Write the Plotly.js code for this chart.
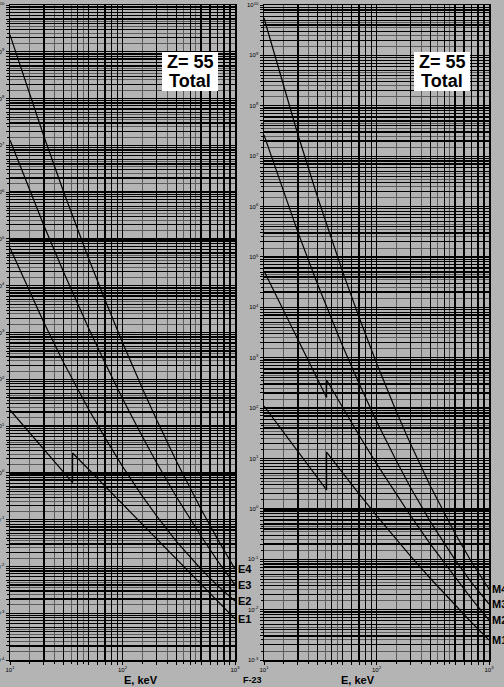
<!DOCTYPE html>
<html>
<head>
<meta charset="utf-8">
<script src="https://cdn.plot.ly/plotly-3.0.1.min.js"></script>
<style>html,body{margin:0;padding:0;background:#b4b4b4;}</style>
</head>
<body>
<div id="icc-plot" style="width:504px;height:687px;"></div>
<script>
// photon energy, keV (the K edge of Z=55 sits at 36 keV, so it is listed twice there)
var energy     = [10, 15, 20, 30, 36, 50, 70, 100, 150, 200, 300, 500, 700, 1000];
var energyEdge = [10, 15, 20, 30, 36, 36, 50, 70, 100, 150, 200, 300, 500, 700, 1000];

// electric multipoles (left panel)
var e4 = [2.29e9, 1.19e8, 1.57e7, 1.01e6, 3.06e5, 3.82e4, 4.93e3, 610, 64.3, 14.0, 1.82, 0.167, 0.0383, 0.00883];
var e3 = [1.30e7, 1.07e6, 1.94e5, 1.93e4, 7.10e3, 1.24e3, 223, 38.9, 5.97, 1.69, 0.313, 0.0442, 0.0132, 0.00403];
var e2 = [6.41e4, 7.18e3, 1.63e3, 226, 97.7, 22.8, 5.60, 1.38, 0.319, 0.122, 0.0348, 0.00871, 0.00388, 0.00183];
var e1 = [22.1, 7.13, 3.19, 1.03, 0.621, 2.66, 1.19, 0.522, 0.216, 0.0800, 0.0394, 0.0145, 0.00416, 0.00181, 0.000755];

// magnetic multipoles (right panel)
var m4 = [5.52e9, 2.31e8, 2.69e7, 1.51e6, 4.36e5, 5.11e4, 6.35e3, 783, 85.7, 19.7, 2.88, 0.325, 0.0883, 0.0256];
var m3 = [2.63e7, 1.86e6, 3.10e5, 2.83e4, 1.01e4, 1.71e3, 307, 54.8, 8.97, 2.69, 0.565, 0.0973, 0.0344, 0.0129];
var m2 = [5.25e4, 8.43e3, 2.29e3, 369, 162, 361, 101, 28.8, 7.89, 1.93, 0.740, 0.201, 0.0431, 0.0164, 0.00621];
var m1 = [110, 32.7, 13.8, 4.08, 2.37, 13.4, 5.16, 1.99, 0.736, 0.248, 0.117, 0.0419, 0.0122, 0.00556, 0.00249];

// grid multipliers inside each decade
var gridMult = [1, 2, 3, 4, 5, 6, 7, 8, 9];
var halfMult = [1.5, 2.5, 3.5, 4.5];

var BG = '#b4b4b4';
var FONT = 'Liberation Sans, Arial, sans-serif';

function decadeVals(lo, hi, mults){
    var v = [];
    for (var d = lo; d < hi; d++) {
        mults.forEach(function(m){ v.push(m * Math.pow(10, d)); });
    }
    if (mults[0] === 1) v.push(Math.pow(10, hi));
    return v;
}

function decadeText(vals){
    return vals.map(function(v){
        var p = Math.log10(v);
        return Math.abs(p - Math.round(p)) < 1e-9 ? '10<sup>' + Math.round(p) + '</sup>' : '';
    });
}

function logAxis(lo, hi, domain, anchor){
    var vals = decadeVals(lo, hi, gridMult);
    return {
        type: 'log',
        range: [lo, hi],
        domain: domain,
        anchor: anchor,
        tickmode: 'array',
        tickvals: vals,
        ticktext: decadeText(vals),
        tickfont: {size: 6, color: '#000', family: FONT},
        ticks: 'outside', ticklen: 3, tickcolor: '#000', tickwidth: 1,
        showgrid: true, gridcolor: '#000', gridwidth: 1.3,
        minor: {
            tickmode: 'array',
            tickvals: decadeVals(lo, hi, halfMult),
            showgrid: true, gridcolor: '#5c5c5c', gridwidth: 1,
            ticks: 'outside', ticklen: 2, tickcolor: '#000'
        },
        zeroline: false,
        showline: true, mirror: true, linecolor: '#000', linewidth: 1.5,
        fixedrange: true
    };
}

function curve(x, y, xa, ya){
    return {
        x: x, y: y, xaxis: xa, yaxis: ya,
        type: 'scatter', mode: 'lines',
        line: {color: '#000', width: 1.2},
        hoverinfo: 'skip', showlegend: false
    };
}

var data = [
    curve(energy, e4, 'x', 'y'),
    curve(energy, e3, 'x', 'y'),
    curve(energy, e2, 'x', 'y'),
    curve(energyEdge, e1, 'x', 'y'),
    curve(energy, m4, 'x2', 'y2'),
    curve(energy, m3, 'x2', 'y2'),
    curve(energyEdge, m2, 'x2', 'y2'),
    curve(energyEdge, m1, 'x2', 'y2')
];

// end labels of the curves
function endLabel(txt, arr, xr, yr){
    return {
        text: '<b>' + txt + '</b>', xref: xr, yref: yr,
        x: 3, y: Math.log10(arr[arr.length - 1]),
        xanchor: 'left', yanchor: 'middle', xshift: 1,
        showarrow: false, font: {size: 11, color: '#000', family: FONT}
    };
}

function boxText(txt, x, y){
    return {
        text: '<b>' + txt + '</b>', xref: 'paper', yref: 'paper',
        x: x, y: y, xanchor: 'center', yanchor: 'middle',
        showarrow: false, font: {size: 18, color: '#000', family: FONT}
    };
}

var annotations = [
    endLabel('E4', e4, 'x', 'y'), endLabel('E3', e3, 'x', 'y'),
    endLabel('E2', e2, 'x', 'y'), endLabel('E1', e1, 'x', 'y'),
    endLabel('M4', m4, 'x2', 'y2'), endLabel('M3', m3, 'x2', 'y2'),
    endLabel('M2', m2, 'x2', 'y2'), endLabel('M1', m1, 'x2', 'y2'),
    boxText('Z= 55', 190 / 504, 1 - 62 / 687), boxText('Total', 190 / 504, 1 - 81 / 687),
    boxText('Z= 55', 442 / 504, 1 - 62 / 687), boxText('Total', 442 / 504, 1 - 81 / 687),
    {text: '<b>E, keV</b>', xref: 'paper', yref: 'paper', x: 122 / 504, y: 1 - 680 / 687,
     yanchor: 'middle', showarrow: false, font: {size: 11, color: '#000', family: FONT}},
    {text: '<b>E, keV</b>', xref: 'paper', yref: 'paper', x: 377 / 504, y: 1 - 680 / 687,
     yanchor: 'middle', showarrow: false, font: {size: 11, color: '#000', family: FONT}},
    {text: '<b>F-23</b>', xref: 'paper', yref: 'paper', x: 252 / 504, y: 0, yanchor: 'bottom',
     showarrow: false, font: {size: 9, color: '#000', family: FONT}}
];

var yDom = [27 / 687, 682 / 687];

var layout = {
    width: 504, height: 687,
    margin: {l: 0, r: 0, t: 0, b: 0},
    paper_bgcolor: BG, plot_bgcolor: BG,
    showlegend: false,
    xaxis: logAxis(1, 3, [10 / 504, 235 / 504], 'y'),
    yaxis: logAxis(-4, 10, yDom, 'x'),
    xaxis2: logAxis(1, 3, [264 / 504, 489 / 504], 'y2'),
    yaxis2: logAxis(-3, 10, yDom, 'x2'),
    shapes: [
        {type: 'rect', xref: 'paper', yref: 'paper', x0: 162 / 504, x1: 218 / 504,
         y0: 1 - 91 / 687, y1: 1 - 52 / 687, fillcolor: '#fff', line: {width: 0}},
        {type: 'rect', xref: 'paper', yref: 'paper', x0: 414 / 504, x1: 470 / 504,
         y0: 1 - 91 / 687, y1: 1 - 52 / 687, fillcolor: '#fff', line: {width: 0}}
    ],
    annotations: annotations
};

var additional_param = {
    displayModeBar: false,          // no plotly buttons
    staticPlot: true
};

Plotly.newPlot('icc-plot', data, layout, additional_param);
</script>
</body>
</html>
